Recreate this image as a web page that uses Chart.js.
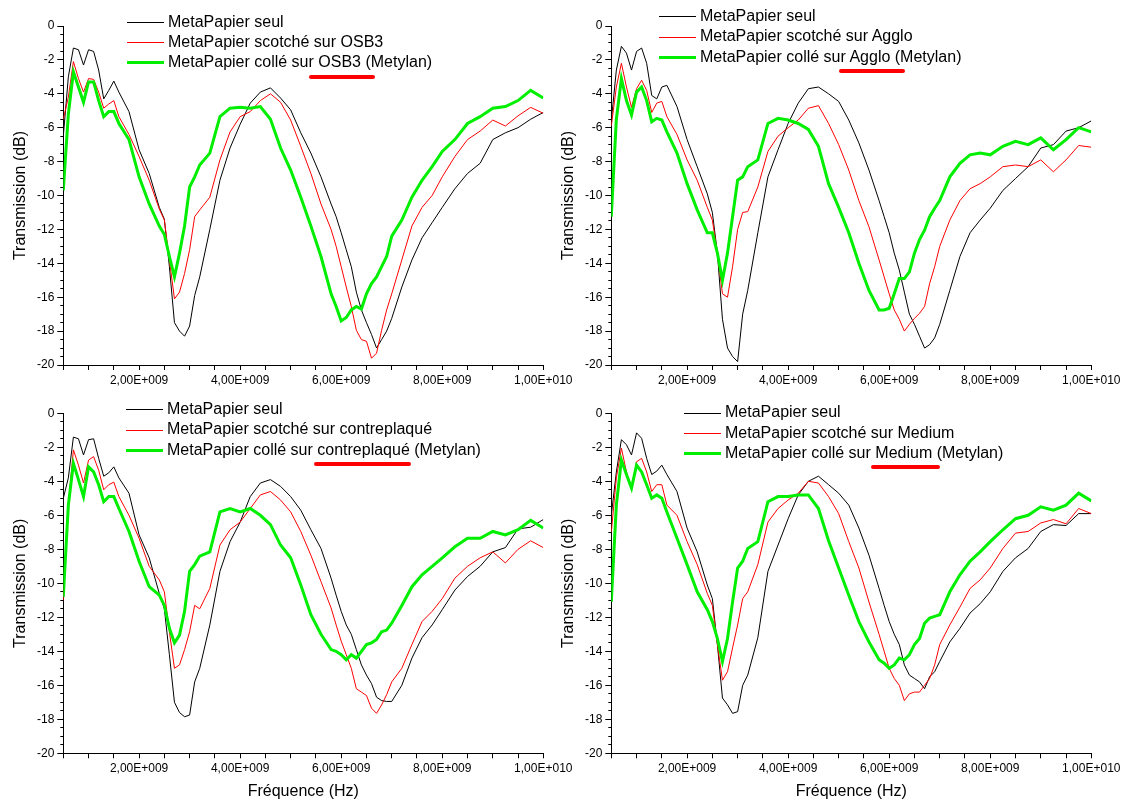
<!DOCTYPE html>
<html>
<head>
<meta charset="utf-8">
<title>Transmission MetaPapier</title>
<script src="https://cdn.jsdelivr.net/npm/chart.js"></script>
<style>
body { margin:0; background:#fff; overflow:hidden; }
#page { position:relative; width:1125px; height:801px; overflow:hidden; background:#fff;
        font-family: Arial, "Liberation Sans", sans-serif; }
canvas { position:absolute; }
.legend { position:absolute; font-size:16px; color:#000; white-space:nowrap; }
.legend .row { height:20.3px; line-height:20.3px; }
.legend .sw { display:inline-block; width:37px; vertical-align:middle; margin-right:4px; }
.hl { position:relative; }
.hl i { position:absolute; top:21.5px; height:4px; background:#f00; border-radius:2px; }
</style>
</head>
<body>
<div id="page"></div>
<script>
// frequencies in GHz (common to every curve)
var freqGHz = [
	0.5, 0.6, 0.7, 0.8, 0.9, 1.0, 1.1, 1.2, 1.3, 1.4, 1.5, 1.6,
	1.8, 2.0, 2.2, 2.4,
	2.5, 2.6, 2.7, 2.8, 2.9, 3.0, 3.1, 3.2,
	3.4, 3.6, 3.8, 4.0, 4.2, 4.4, 4.6, 4.8, 5.0, 5.2, 5.4, 5.6, 5.8,
	5.9, 6.0, 6.1, 6.2, 6.3, 6.4, 6.5, 6.6, 6.7, 6.8, 6.9, 7.0,
	7.2, 7.4, 7.6, 7.8, 8.0,
	8.25, 8.5, 8.75, 9.0, 9.25, 9.5, 9.75, 10.0
];

// transmission in dB
var osb3Seul = [
	-6.5, -3.0, -1.3, -1.4, -2.3, -1.4, -1.5, -2.6, -4.3, -3.8, -3.25, -3.9,
	-5.05, -7.3, -8.7, -10.7,
	-11.4, -14.2, -17.5, -18.0, -18.3, -17.7, -15.9, -14.8,
	-12.0, -9.1, -7.2, -5.8, -4.55, -3.9, -3.65, -4.25, -4.95, -6.3, -7.5, -8.9, -10.5,
	-11.25, -12.2, -13.2, -14.2, -15.7, -16.75, -17.5, -18.2, -19.0, -18.5, -18.0, -17.25,
	-15.4, -13.8, -12.5, -11.6, -10.7,
	-9.6, -8.7, -8.1, -6.7, -6.3, -6.0, -5.5, -5.1
];
var osb3Scotch = [
	-5.5, -4.2, -2.1, -3.1, -3.9, -3.1, -3.15, -3.9, -4.85, -4.6, -4.4, -5.35,
	-6.4, -7.7, -9.1, -10.8,
	-11.45, -13.8, -16.1, -15.7, -14.6, -13.2, -11.25, -10.85,
	-10.1, -7.9, -6.25, -5.35, -5.05, -4.4, -4.0, -4.5, -5.55, -7.1, -8.7, -10.5, -12.0,
	-13.0, -14.2, -15.4, -16.55, -17.95, -18.5, -18.6, -19.6, -19.3, -17.95, -16.75, -15.8,
	-13.8, -11.8, -10.7, -10.0, -8.9,
	-7.7, -6.7, -6.2, -5.55, -5.9, -5.3, -4.8, -5.15
];
var osb3Colle = [
	-9.7, -5.2, -2.7, -3.6, -4.5, -3.3, -3.3, -4.4, -5.35, -5.05, -5.05, -5.75,
	-6.7, -8.9, -10.5, -11.8,
	-12.3, -13.6, -14.8, -13.4, -11.8, -9.5, -8.9, -8.2,
	-7.5, -5.35, -4.85, -4.8, -4.85, -4.75, -5.5, -7.2, -8.5, -10.1, -11.8, -13.6, -15.8,
	-16.55, -17.4, -17.2, -16.75, -16.55, -16.7, -15.8, -15.2, -14.8, -14.2, -13.6, -12.4,
	-11.45, -10.1, -9.1, -8.3, -7.4,
	-6.7, -5.75, -5.35, -4.85, -4.75, -4.4, -3.8, -4.25
];

var aggloSeul = [
	-5.6, -2.6, -1.2, -1.6, -2.6, -1.5, -1.3, -2.2, -4.1, -4.3, -3.6, -3.5,
	-4.75, -6.7, -8.3, -9.9,
	-11.0, -13.4, -17.3, -19.0, -19.5, -19.8, -17.0, -15.6,
	-12.2, -8.9, -7.3, -5.75, -4.55, -3.7, -3.6, -4.0, -4.45, -5.55, -6.9, -8.5, -10.3,
	-11.25, -12.2, -13.4, -14.4, -15.7, -17.0, -17.6, -18.3, -19.0, -18.8, -18.4, -17.6,
	-15.6, -13.6, -12.2, -11.45, -10.75,
	-9.7, -9.0, -8.3, -7.2, -7.0, -6.2, -6.0, -5.6
];
var aggloScotch = [
	-5.9, -3.6, -2.2, -3.6, -4.8, -3.7, -3.2, -3.8, -5.1, -4.55, -4.45, -5.35,
	-6.4, -7.9, -9.1, -10.7,
	-11.45, -13.4, -15.8, -16.0, -14.2, -12.0, -11.0, -10.95,
	-9.5, -7.4, -6.5, -6.0, -5.55, -4.85, -4.7, -5.75, -7.0, -8.5, -10.3, -11.85, -13.8,
	-14.8, -15.8, -16.75, -17.3, -18.0, -17.6, -17.25, -16.95, -16.55, -15.2, -14.2, -13.0,
	-11.45, -10.3, -9.6, -9.3, -8.9,
	-8.3, -8.2, -8.3, -7.9, -8.6, -7.9, -7.05, -7.15
];
var aggloColle = [
	-11.25, -5.5, -3.1, -4.4, -5.25, -3.9, -3.6, -4.4, -5.65, -5.45, -5.55, -6.25,
	-7.5, -9.3, -10.85, -12.2,
	-12.2, -13.4, -15.0, -13.4, -11.25, -9.1, -8.9, -8.3,
	-7.9, -5.75, -5.45, -5.55, -5.75, -6.1, -7.1, -9.3, -10.7, -12.2, -14.0, -15.6, -16.75,
	-16.75, -16.65, -15.8, -14.9, -14.9, -14.5, -13.4, -12.6, -12.05, -11.25, -10.75, -10.3,
	-8.9, -8.1, -7.6, -7.5, -7.6,
	-7.1, -6.8, -7.0, -6.6, -7.3, -6.7, -6.0, -6.25
];

var contreSeul = [
	-5.0, -3.8, -1.4, -1.5, -2.45, -1.55, -1.5, -2.65, -3.7, -3.5, -3.15, -3.8,
	-4.7, -7.15, -8.5, -10.6,
	-11.5, -14.2, -17.0, -17.6, -17.85, -17.75, -15.8, -15.0,
	-12.45, -9.3, -7.55, -6.4, -4.9, -4.1, -3.9, -4.3, -4.9, -5.7, -6.85, -7.95, -9.7,
	-10.7, -11.65, -12.45, -13.0, -13.9, -14.8, -15.4, -15.9, -16.7, -16.9, -16.95, -16.95,
	-16.0, -14.4, -13.2, -12.45, -11.55,
	-10.4, -9.6, -9.0, -8.15, -7.9, -6.8, -6.7, -6.25
];
var contreScotch = [
	-11.0, -5.4, -2.15, -3.05, -4.1, -2.75, -2.55, -3.35, -4.5, -4.2, -4.05, -4.9,
	-6.0, -7.35, -9.0, -9.8,
	-10.5, -12.85, -15.0, -14.8, -13.9, -12.85, -11.3, -11.5,
	-10.3, -7.75, -6.85, -6.4, -5.6, -4.8, -4.6, -5.1, -5.8, -6.95, -8.35, -9.9, -11.45,
	-12.45, -13.4, -14.2, -15.0, -16.2, -16.4, -16.6, -17.35, -17.65, -17.15, -16.55, -15.8,
	-15.0, -13.6, -12.25, -11.65, -10.9,
	-9.7, -9.0, -8.5, -8.15, -8.8, -8.0, -7.5, -7.9
];
var contreColle = [
	-10.8, -5.4, -2.95, -3.9, -4.9, -3.15, -3.45, -4.2, -5.2, -4.9, -4.9, -5.6,
	-6.95, -8.7, -10.2, -10.7,
	-11.3, -12.65, -13.5, -13.05, -11.65, -9.3, -8.9, -8.4,
	-8.15, -5.8, -5.6, -5.8, -5.6, -6.0, -6.55, -7.75, -8.5, -10.1, -11.85, -13.0, -13.9,
	-14.0, -14.2, -14.5, -14.2, -14.4, -14.0, -13.6, -13.5, -13.3, -12.85, -12.75, -12.35,
	-11.3, -10.2, -9.5, -9.0, -8.5,
	-7.85, -7.35, -7.35, -6.95, -7.15, -6.85, -6.3, -6.75
];

var mediumSeul = [
	-6.0, -3.45, -1.55, -1.85, -2.45, -1.15, -1.47, -2.65, -3.6, -3.4, -3.05, -3.6,
	-4.6, -6.75, -8.15, -10.1,
	-10.9, -13.6, -16.75, -17.15, -17.65, -17.55, -16.0, -15.4,
	-13.2, -9.3, -7.75, -6.2, -4.8, -4.0, -3.7, -4.2, -4.7, -5.4, -6.75, -8.35, -10.3,
	-11.3, -12.25, -13.0, -13.6, -14.8, -15.4, -15.6, -15.8, -16.2, -15.5, -15.2, -14.6,
	-13.45, -12.65, -11.75, -11.2, -10.5,
	-9.3, -8.5, -7.95, -6.95, -6.55, -6.6, -5.9, -5.9
];
var mediumScotch = [
	-7.0, -3.8, -2.05, -3.45, -4.4, -2.85, -2.65, -3.45, -4.6, -4.2, -4.2, -5.4,
	-6.0, -7.55, -8.9, -10.6,
	-11.3, -13.6, -15.7, -15.2, -13.8, -12.45, -10.9, -10.5,
	-8.9, -6.4, -5.6, -5.1, -4.7, -4.0, -4.1, -4.9, -5.9, -7.55, -9.1, -11.1, -13.0,
	-14.0, -15.0, -15.6, -16.0, -16.9, -16.5, -16.4, -16.4, -16.0, -15.6, -14.8, -13.6,
	-12.45, -11.4, -10.3, -9.8, -9.1,
	-7.95, -7.05, -6.95, -6.45, -6.25, -6.5, -5.6, -5.9
];
var mediumColle = [
	-11.1, -5.4, -2.75, -3.6, -4.4, -3.05, -3.45, -4.2, -5.0, -4.8, -5.0, -5.8,
	-7.35, -8.9, -10.5, -11.55,
	-12.25, -13.25, -14.6, -13.25, -11.1, -9.1, -8.7, -7.95,
	-7.55, -5.2, -4.9, -4.9, -4.8, -4.8, -5.6, -7.5, -9.1, -10.7, -12.25, -13.45, -14.5,
	-14.7, -15.0, -14.8, -14.4, -14.5, -14.2, -13.6, -13.25, -12.35, -12.05, -11.95, -11.85,
	-10.5, -9.5, -8.7, -8.15, -7.55,
	-6.85, -6.2, -6.0, -5.5, -5.7, -5.4, -4.7, -5.15
];

var supports = ['OSB3', 'Agglo', 'contreplaqué', 'Medium'];
var xMin = 0.5e9, xMax = 1e10, xStep = 0.5e9;
var yMin = -20, yMax = 0, yStep = 0.5;

var FONT = 'Arial, "Liberation Sans", sans-serif';
Chart.defaults.font.family = FONT;
Chart.defaults.color = '#000';

function pts(vals) {
	return freqGHz.map(function(f, i) { return {x: f * 1e9, y: vals[i]}; });
}

function sci(v) {
	var e = Math.floor(Math.log10(v) + 1e-9);
	var m = (v / Math.pow(10, e)).toFixed(2).replace('.', ',');
	var es = String(e);
	while (es.length < 3) es = '0' + es;
	return m + 'E+' + es;
}

function isMajorY(v) { return Math.abs(v % 2) < 1e-9; }

var page = document.getElementById('page');

// p: left/top of canvas, plot height, legend position, underline extents
function makePanel(p, series, sup) {
	var cv = document.createElement('canvas');
	cv.width = 600; cv.height = p.h;
	cv.style.left = p.left + 'px'; cv.style.top = p.top + 'px';
	cv.style.width = '600px'; cv.style.height = p.h + 'px';
	page.appendChild(cv);

	var labels = [
		'MetaPapier seul',
		'MetaPapier scotché sur ' + sup,
		'MetaPapier collé sur ' + sup + ' (Metylan)'
	];
	var colors = ['#000000', '#ff0000', '#00ee00'];
	var widths = [1, 1, 3];

	var ds = [];
	for (var i = 0; i < 3; i++) {
		ds.push({
			label: labels[i],
			data: pts(series[i]),
			borderColor: colors[i],
			borderWidth: widths[i],
			pointRadius: 0,
			tension: 0,
			fill: false,
			order: 3 - i
		});
	}

	new Chart(cv, {
		type: 'line',
		data: {datasets: ds},
		options: {
			responsive: false,
			animation: false,
			layout: {padding: {left: 0, right: 56.7, top: p.padTop, bottom: 0}},
			plugins: {legend: {display: false}, tooltip: {enabled: false}},
			scales: {
				x: {
					type: 'linear', min: xMin, max: xMax,
					afterFit: function(s) { s.height = p.h - p.padTop - p.plotH; },
					border: {color: '#000', width: 1},
					grid: {drawOnChartArea: false, drawTicks: true, tickLength: 5, tickColor: '#000'},
					ticks: {
						stepSize: xStep, autoSkip: false, maxRotation: 0, minRotation: 0,
						padding: 3, font: {size: 12}, color: '#000',
						callback: function(v) {
							var g = v / 1e9;
							var r = Math.round(g);
							if (Math.abs(g - r) > 1e-6 || r % 2) return '';
							return sci(v);
						}
					},
					title: {display: p.xTitle, text: 'Fréquence (Hz)', font: {size: 16}, color: '#000',
						padding: {top: 0, bottom: 0}}
				},
				y: {
					type: 'linear', min: yMin, max: yMax,
					afterFit: function(s) { s.width = 63.3; },
					border: {color: '#000', width: 1},
					grid: {
						drawOnChartArea: false, drawTicks: true, tickLength: 6, tickColor: '#000',
						tickBorderDash: function(c) { return isMajorY(c.tick.value) ? [] : [3, 3]; },
						tickBorderDashOffset: function(c) { return isMajorY(c.tick.value) ? 0 : 3; }
					},
					ticks: {
						stepSize: yStep, autoSkip: false, padding: 3, font: {size: 12}, color: '#000',
						callback: function(v) { return isMajorY(v) ? String(Math.round(v)) : ''; }
					},
					title: {display: true, text: 'Transmission (dB)', font: {size: 16}, color: '#000',
						padding: {top: 11.4, bottom: 0}}
				}
			}
		}
	});

	// legend drawn as html text over the plot, like the original figure
	var lg = document.createElement('div');
	lg.className = 'legend';
	lg.style.left = p.legX + 'px';
	lg.style.top = p.legY + 'px';
	var html = '';
	for (var k = 0; k < 3; k++) {
		var txt = labels[k];
		if (k == 2) {
			txt = 'MetaPapier collé sur <span class="hl">' + sup +
				'<i style="left:-' + p.ulL + 'px;right:-' + p.ulR + 'px"></i></span> (Metylan)';
		}
		html += '<div class="row"><span class="sw" style="border-top:' + (k == 2 ? 3.5 : 1) +
			'px solid ' + colors[k] + '"></span>' + txt + '</div>';
	}
	lg.innerHTML = html;
	page.appendChild(lg);
}

makePanel({left: 0, top: 0, h: 395, padTop: 26, plotH: 339, xTitle: false,
	legX: 127, legY: 11.5, ulL: 9, ulR: 14},
	[osb3Seul, osb3Scotch, osb3Colle], supports[0]);
makePanel({left: 548, top: 0, h: 395, padTop: 26, plotH: 339, xTitle: false,
	legX: 659, legY: 6, ulL: 10, ulR: 15},
	[aggloSeul, aggloScotch, aggloColle], supports[1]);
makePanel({left: 0, top: 395, h: 406, padTop: 18.3, plotH: 340, xTitle: true,
	legX: 126, legY: 399, ulL: 3, ulR: 1},
	[contreSeul, contreScotch, contreColle], supports[2]);
makePanel({left: 548, top: 395, h: 406, padTop: 18.3, plotH: 340, xTitle: true,
	legX: 684, legY: 402.3, ulL: 4, ulR: 8},
	[mediumSeul, mediumScotch, mediumColle], supports[3]);
</script>
</body>
</html>
